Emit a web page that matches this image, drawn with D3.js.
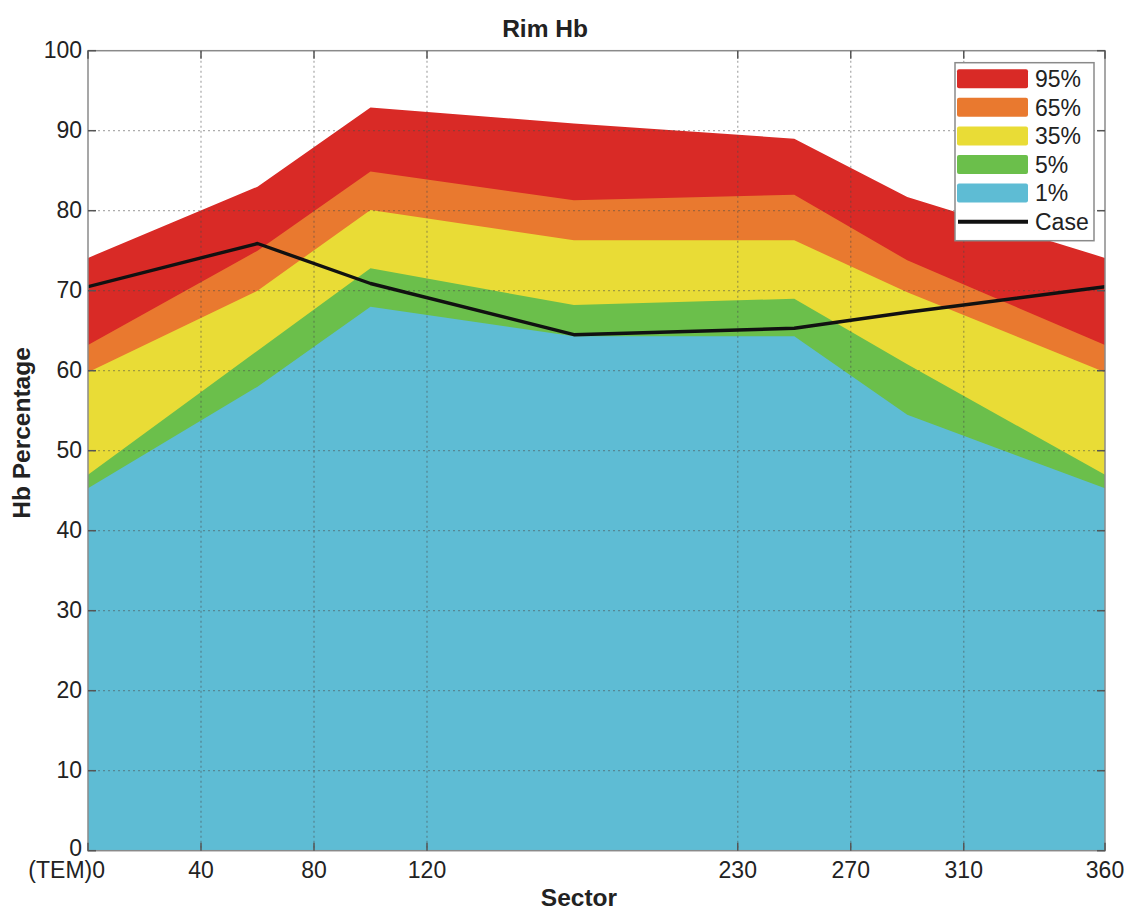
<!DOCTYPE html>
<html>
<head>
<meta charset="utf-8">
<script src="https://cdn.jsdelivr.net/npm/d3@7"></script>
<style>
  body { margin: 0; background: #fff; }
  svg { font-family: "Liberation Sans", Arial, sans-serif; }
  .tick-label { font-size: 23px; fill: #222; }
  .axis-title { font-size: 24.5px; font-weight: bold; fill: #222; }
  .legend-label { font-size: 23px; fill: #222; }
</style>
</head>
<body>
<div id="chart"></div>
<script>
// sector positions (deg) where the percentile bands were sampled
const sectors = [0, 60, 100, 172, 250, 290, 360];
const p95 = [74.1, 83.0, 92.9, 90.9, 89.0, 81.7, 74.1];
const p65 = [63.2, 75.0, 84.9, 81.3, 82.0, 73.8, 63.2];
const p35 = [59.8, 70.0, 80.1, 76.3, 76.3, 69.8, 59.8];
const p5  = [47.0, 62.5, 72.8, 68.2, 69.0, 60.8, 47.0];
const p1  = [45.3, 58.0, 68.0, 64.3, 64.3, 54.5, 45.3];
const caseVals = [70.5, 75.9, 70.9, 64.5, 65.3, 67.3, 70.5];

const bandNames = ['95%', '65%', '35%', '5%', '1%'];
const bandColors = ['#d92a26', '#e9792f', '#e9dc36', '#6bbf4b', '#5ebcd4'];

const xTicks = [0, 40, 80, 120, 230, 270, 310, 360];
const xTickLabels = ['(TEM)0', '40', '80', '120', '230', '270', '310', '360'];
const yTicks = [0, 10, 20, 30, 40, 50, 60, 70, 80, 90, 100];

class BandChart {
  constructor(_config) {
    this.config = {
      parentElement: _config.parentElement,
      containerWidth: 1134,
      containerHeight: 916,
      margin: {top: 50.7, right: 29, bottom: 65.3, left: 88},
      tickLength: 8
    };
    this.initVis();
  }

  initVis() {
    const vis = this;
    const cfg = vis.config;
    cfg.width = cfg.containerWidth - cfg.margin.left - cfg.margin.right;
    cfg.height = cfg.containerHeight - cfg.margin.top - cfg.margin.bottom;

    vis.svg = d3.select(cfg.parentElement).append('svg')
        .attr('width', cfg.containerWidth)
        .attr('height', cfg.containerHeight);

    vis.chart = vis.svg.append('g')
        .attr('transform', `translate(${cfg.margin.left},${cfg.margin.top})`);

    vis.xScale = d3.scaleLinear().domain([0, 360]).range([0, cfg.width]);
    vis.yScale = d3.scaleLinear().domain([0, 100]).range([cfg.height, 0]);

    vis.svg.append('defs').append('clipPath').attr('id', 'plot-clip')
      .append('rect').attr('width', cfg.width).attr('height', cfg.height);

    vis.renderVis();
  }

  renderVis() {
    const vis = this;
    const cfg = vis.config;
    const bands = [p95, p65, p35, p5, p1];

    const area = d3.area()
        .x((d, i) => vis.xScale(sectors[i]))
        .y0(vis.yScale(0))
        .y1(d => vis.yScale(d));

    const plot = vis.chart.append('g').attr('clip-path', 'url(#plot-clip)');

    plot.selectAll('.band')
      .data(bands)
      .join('path')
        .attr('class', 'band')
        .attr('fill', (d, i) => bandColors[i])
        .attr('d', area);

    // dotted grid on top of the bands
    const grid = plot.append('g')
        .attr('stroke', '#4a4a4a')
        .attr('stroke-opacity', 0.45)
        .attr('stroke-width', 1.3)
        .attr('stroke-dasharray', '2,3');

    grid.selectAll('.vgrid')
      .data(xTicks.slice(1, -1))
      .join('line')
        .attr('x1', d => vis.xScale(d)).attr('x2', d => vis.xScale(d))
        .attr('y1', 0).attr('y2', cfg.height);

    grid.selectAll('.hgrid')
      .data(yTicks.slice(1, -1))
      .join('line')
        .attr('y1', d => vis.yScale(d)).attr('y2', d => vis.yScale(d))
        .attr('x1', 0).attr('x2', cfg.width);

    const line = d3.line()
        .x((d, i) => vis.xScale(sectors[i]))
        .y(d => vis.yScale(d));

    plot.append('path')
        .datum(caseVals)
        .attr('fill', 'none')
        .attr('stroke', '#111')
        .attr('stroke-width', 3.4)
        .attr('stroke-linejoin', 'round')
        .attr('d', line);

    // axes box with inward ticks on all four sides
    vis.chart.append('rect')
        .attr('width', cfg.width)
        .attr('height', cfg.height)
        .attr('fill', 'none')
        .attr('stroke', '#8a8a8a')
        .attr('stroke-width', 1.5);

    const tickG = vis.chart.append('g').attr('stroke', '#555').attr('stroke-width', 1.5);
    xTicks.forEach(t => {
      const x = vis.xScale(t);
      tickG.append('line').attr('x1', x).attr('x2', x).attr('y1', cfg.height).attr('y2', cfg.height - cfg.tickLength);
      tickG.append('line').attr('x1', x).attr('x2', x).attr('y1', 0).attr('y2', cfg.tickLength);
    });
    yTicks.forEach(t => {
      const y = vis.yScale(t);
      tickG.append('line').attr('x1', 0).attr('x2', cfg.tickLength).attr('y1', y).attr('y2', y);
      tickG.append('line').attr('x1', cfg.width).attr('x2', cfg.width - cfg.tickLength).attr('y1', y).attr('y2', y);
    });

    vis.chart.selectAll('.x-label')
      .data(xTicks)
      .join('text')
        .attr('class', 'tick-label x-label')
        .attr('x', d => vis.xScale(d))
        .attr('dx', (d, i) => i === 0 ? 17 : 0)
        .attr('y', cfg.height + 27)
        .attr('text-anchor', (d, i) => i === 0 ? 'end' : 'middle')
        .text((d, i) => xTickLabels[i]);

    vis.chart.selectAll('.y-label')
      .data(yTicks)
      .join('text')
        .attr('class', 'tick-label y-label')
        .attr('x', -6)
        .attr('y', d => vis.yScale(d))
        .attr('dy', d => d === 0 ? '0.22em' : '0.33em')
        .attr('text-anchor', 'end')
        .text(d => d);

    vis.svg.append('text')
        .attr('class', 'axis-title')
        .attr('x', 545).attr('y', 37)
        .attr('text-anchor', 'middle')
        .text('Rim Hb');

    vis.svg.append('text')
        .attr('class', 'axis-title')
        .attr('x', 579).attr('y', 906)
        .attr('text-anchor', 'middle')
        .text('Sector');

    vis.svg.append('text')
        .attr('class', 'axis-title')
        .attr('transform', 'translate(30,433) rotate(-90)')
        .attr('text-anchor', 'middle')
        .text('Hb Percentage');

    vis.renderLegend();
  }

  renderLegend() {
    const vis = this;
    const rowH = 28.6;
    const legend = vis.svg.append('g').attr('transform', 'translate(955,62.7)');

    legend.append('rect')
        .attr('width', 139)
        .attr('height', 178)
        .attr('fill', '#fff')
        .attr('stroke', '#8a8a8a')
        .attr('stroke-width', 1.5);

    const items = bandNames.map((n, i) => ({name: n, color: bandColors[i], type: 'patch'}))
        .concat([{name: 'Case', color: '#111', type: 'line'}]);

    const row = legend.selectAll('.legend-row')
      .data(items)
      .join('g')
        .attr('class', 'legend-row')
        .attr('transform', (d, i) => `translate(0,${16 + i * rowH})`);

    row.filter(d => d.type === 'patch').append('rect')
        .attr('x', 2).attr('y', -9.5)
        .attr('width', 71).attr('height', 19)
        .attr('rx', 2)
        .attr('fill', d => d.color);

    row.filter(d => d.type === 'line').append('line')
        .attr('x1', 3).attr('x2', 73)
        .attr('stroke', d => d.color)
        .attr('stroke-width', 4);

    row.append('text')
        .attr('class', 'legend-label')
        .attr('x', 80)
        .attr('dy', '0.36em')
        .text(d => d.name);
  }
}

new BandChart({parentElement: '#chart'});
</script>
</body>
</html>
